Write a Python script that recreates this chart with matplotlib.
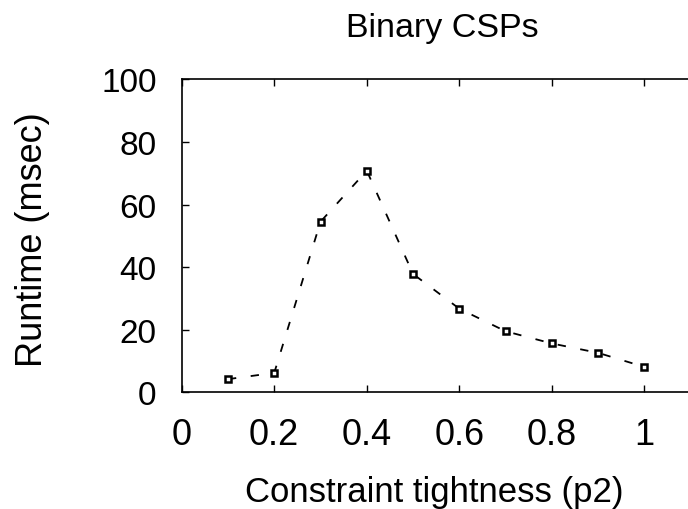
import matplotlib
matplotlib.use("Agg")
import matplotlib.pyplot as plt

# data
tightness = [0.1, 0.2, 0.3, 0.4, 0.5, 0.6, 0.7, 0.8, 0.9, 1.0]
runtime = [4.2, 6.2, 54.5, 70.8, 37.8, 26.7, 19.5, 15.6, 12.6, 8.1]
xticks = [0, 0.2, 0.4, 0.6, 0.8, 1.0]
xtick_labels = ["0", "0.2", "0.4", "0.6", "0.8", "1"]
yticks = [0, 20, 40, 60, 80, 100]

plt.rcParams["font.family"] = ["Liberation Sans", "DejaVu Sans"]
plt.rcParams["lines.scale_dashes"] = False

fig = plt.figure(figsize=(6.88, 5.10), dpi=100)
# right edge of the box falls just outside the image, as in the original
ax = fig.add_axes([181.7 / 688, 1 - 393.3 / 510, 509 / 688, 313 / 510])

ax.plot(tightness, runtime, color="black", linestyle=(0, (6, 10.5)), linewidth=1.3,
        marker="s", markersize=4.2, markerfacecolor="white",
        markeredgecolor="black", markeredgewidth=1.8)

ax.set_xlim(0, 1.1)
ax.set_ylim(0, 100)
ax.set_xticks(xticks)
ax.set_xticklabels(xtick_labels)
ax.set_yticks(yticks)
ax.tick_params(direction="in", length=5, width=1, top=True, pad=18)
ax.tick_params(axis="x", labelsize=26)
ax.tick_params(axis="y", labelsize=24)
for s in ax.spines.values():
    s.set_linewidth(1.2)

fig.text(442 / 688, 1 - 37 / 510, "Binary CSPs", fontsize=24.5,
         ha="center", va="baseline")
ax.set_xlabel("Constraint tightness (p2)", fontsize=25)
ax.set_ylabel("Runtime (msec)", fontsize=26)
ax.xaxis.set_label_coords(0.496, -0.264)
ax.yaxis.set_label_coords(-0.259, 0.49)

fig.savefig("out.png", dpi=100)
